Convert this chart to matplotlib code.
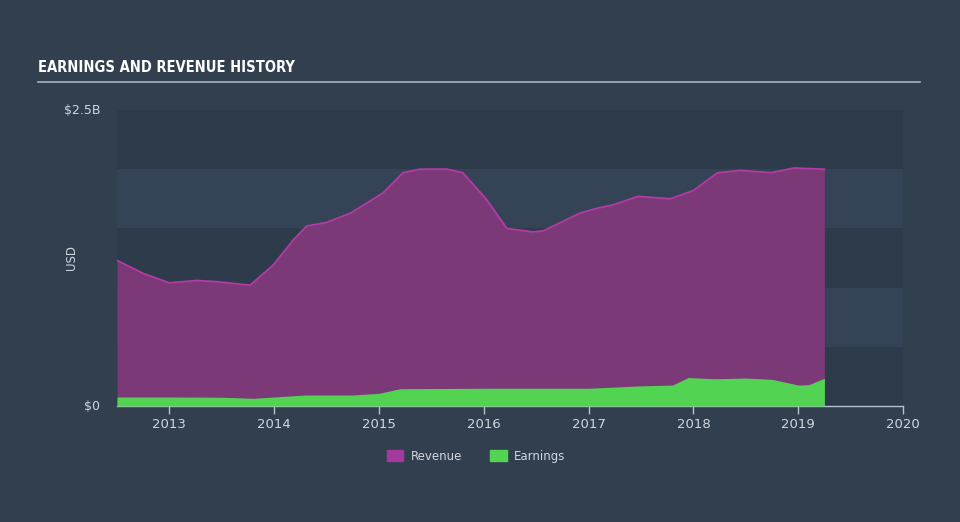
import matplotlib
matplotlib.use("Agg")
import matplotlib.pyplot as plt
from matplotlib.patches import Patch

# Data (years as decimal, values in billions USD)
rev_x = [2012.5, 2012.75, 2013.0, 2013.26, 2013.45, 2013.77, 2013.99, 2014.18, 2014.31, 2014.5,
         2014.73, 2015.04, 2015.23, 2015.39, 2015.65, 2015.8, 2016.03, 2016.22, 2016.47, 2016.57,
         2016.92, 2017.08, 2017.24, 2017.47, 2017.78, 2018.0, 2018.23, 2018.45, 2018.74, 2018.96, 2019.25]
rev_y = [1.23, 1.12, 1.04, 1.06, 1.05, 1.02, 1.19, 1.40, 1.52, 1.55,
         1.63, 1.80, 1.97, 2.00, 2.00, 1.97, 1.74, 1.50, 1.47, 1.48,
         1.63, 1.67, 1.70, 1.77, 1.75, 1.82, 1.97, 1.99, 1.97, 2.01, 2.00]

earn_x = [2012.5, 2013.0, 2013.5, 2013.8, 2014.3, 2014.75, 2015.0, 2015.2, 2016.0, 2016.5, 2017.0,
          2017.5, 2017.8, 2017.95, 2018.2, 2018.5, 2018.75, 2019.0, 2019.1, 2019.25]
earn_y = [0.076, 0.076, 0.074, 0.065, 0.093, 0.093, 0.107, 0.146, 0.150, 0.150, 0.150,
          0.170, 0.177, 0.240, 0.230, 0.236, 0.225, 0.177, 0.180, 0.234]

year_ticks = [2013, 2014, 2015, 2016, 2017, 2018, 2019, 2020]
y_labels = ["$0", "$2.5B"]

BG = "#323f4f"
DARK = "#2e3b4b"
LIGHT = "#344456"
TXT = "#d0d6de"

fig = plt.figure(figsize=(9.6, 5.22), dpi=100, facecolor=BG)
ax = fig.add_axes([117/960, 1-406/522, (903-117)/960, (406-110)/522])
ax.set_facecolor(DARK)
ax.set_xlim(2012.5, 2020.0)
ax.set_ylim(0, 2.5)

# bands
for i in range(5):
    ax.axhspan(i*0.5, (i+1)*0.5, color=(DARK if i % 2 == 0 else LIGHT), lw=0, zorder=0)

ax.fill_between(rev_x, rev_y, color="#7b3a77", lw=0, zorder=1)
ax.plot(rev_x, rev_y, color="#b43aa6", lw=1.3, zorder=2)
ax.fill_between(earn_x, earn_y, color="#52d452", lw=0, zorder=3)

for s in ["top", "right", "left"]:
    ax.spines[s].set_visible(False)
ax.spines["bottom"].set_color("#b8c0cc")
ax.spines["bottom"].set_linewidth(1)
ax.set_xticks(year_ticks)
ax.set_xticklabels([str(y) for y in year_ticks])
ax.tick_params(axis="x", colors="#b8c0cc", length=6, width=1, labelcolor=TXT, labelsize=9.5, pad=3)
ax.set_yticks([0, 2.5])
ax.set_yticklabels(y_labels)
ax.tick_params(axis="y", length=0, labelcolor=TXT, labelsize=9, pad=12)
for lab in ax.get_yticklabels():
    lab.set_verticalalignment("center")

fig.text(72/960, 1-258/522, "USD", rotation=90, color=TXT, fontsize=8.5, ha="center", va="center")

# title
fig.text(38/960, 1-68/522, "EARNINGS AND REVENUE HISTORY", color="white", fontsize=10.5,
         fontweight="bold", fontstretch="condensed", family="DejaVu Sans", ha="left", va="center")
fig.add_artist(plt.Line2D([38/960, 920/960], [1-82/522, 1-82/522], color="#aab2bd", lw=1.2,
                          transform=fig.transFigure))

handles = [Patch(color="#a33a9c", label="Revenue"), Patch(color="#52d452", label="Earnings")]
fig.legend(handles=handles, loc="center", bbox_to_anchor=(476/960, 1-456/522), ncol=2,
           frameon=False, fontsize=8.5, labelcolor=TXT, handlelength=1.4, handleheight=1.1,
           columnspacing=2.4, handletextpad=0.6)

fig.savefig("out.png", dpi=100, facecolor=BG)
